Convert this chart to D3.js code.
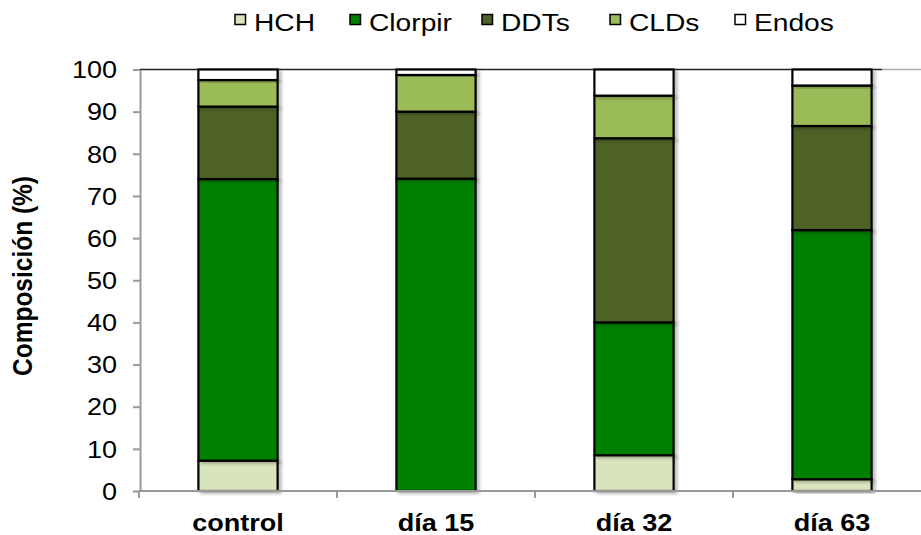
<!DOCTYPE html>
<html><head><meta charset="utf-8">
<script src="https://cdn.jsdelivr.net/npm/d3@7"></script>
<style>body{margin:0;background:#fff}svg{display:block}</style>
</head><body>
<svg id="c" width="921" height="535"></svg>
<script>
const categories = ["control", "día 15", "día 32", "día 63"];
const seriesNames = ["HCH", "Clorpir", "DDTs", "CLDs", "Endos"];
const HCH     = [7.2, 0.0, 8.5, 2.8];
const Clorpir = [66.8, 74.1, 31.5, 59.1];
const DDTs    = [17.2, 15.9, 43.7, 24.7];
const CLDs    = [6.3, 8.7, 10.1, 9.6];
const Endos   = [2.5, 1.3, 6.2, 3.8];
const seriesColors = ["#d7e4bd", "#008000", "#4f6228", "#9bbb59", "#ffffff"];
const yTickValues = [0, 10, 20, 30, 40, 50, 60, 70, 80, 90, 100];
const yTitle = "Composición (%)";

(function () {
const svg = d3.select("#c");
const FONT = "'Liberation Sans', Arial, sans-serif";
const SX = 1.15; // horizontal stretch of the reference's text
const mLeft = 140, mTop = 69.5, mBottom = 491, plotRight = 931;

const table = categories.map((c, i) => ({
  cat: c, HCH: HCH[i], Clorpir: Clorpir[i], DDTs: DDTs[i], CLDs: CLDs[i], Endos: Endos[i]
}));
const stacked = d3.stack().keys(seriesNames)(table);

const x = d3.scaleBand().domain(categories).range([mLeft - 1, plotRight]).paddingInner(0.6).paddingOuter(0.3);
const y = d3.scaleLinear().domain([0, 100]).range([mBottom, mTop]);

const defs = svg.append("defs");
const f = defs.append("filter").attr("id", "sh").attr("x", "-20%").attr("y", "-20%").attr("width", "140%").attr("height", "140%");
f.append("feDropShadow").attr("dx", 3).attr("dy", 2).attr("stdDeviation", 1.5).attr("flood-color", "#000").attr("flood-opacity", 0.25);

// top line at 100
svg.append("line").attr("x1", mLeft).attr("x2", 882).attr("y1", y(100)).attr("y2", y(100))
  .attr("stroke", "#222").attr("stroke-width", 1.5);
svg.append("line").attr("x1", 882).attr("x2", 921).attr("y1", y(100)).attr("y2", y(100))
  .attr("stroke", "#aaa").attr("stroke-width", 1.5);

// bars
const layers = svg.append("g").selectAll("g").data(stacked).join("g")
  .attr("fill", (d, i) => seriesColors[i]);
layers.selectAll("rect").data(d => d.map((v, i) => ({v, cat: categories[i]})).filter(o => o.v[1] - o.v[0] > 0))
  .join("rect")
  .attr("x", d => x(d.cat))
  .attr("width", x.bandwidth())
  .attr("y", d => y(d.v[1]))
  .attr("height", d => y(d.v[0]) - y(d.v[1]))
  .attr("stroke", "#000").attr("stroke-width", 2.2)
  .attr("filter", "url(#sh)");

// y axis
const yAxis = d3.axisLeft(y).tickValues(yTickValues).tickSize(7).tickPadding(13).tickSizeOuter(0);
const gy = svg.append("g").attr("transform", `translate(${mLeft},0)`).call(yAxis);
gy.select(".domain").attr("stroke", "#999").attr("stroke-width", 2);
gy.selectAll(".tick line").attr("stroke", "#999").attr("stroke-width", 2);
gy.selectAll(".tick text").attr("font-family", FONT).attr("font-size", 23.5).attr("fill", "#000")
  .attr("x", -23 / SX).attr("dy", "0.35em").attr("transform", `scale(${SX},1)`);

// x axis
const bounds = categories.map(c => x(c) - x.step() * 0.3).concat([plotRight]);
svg.append("line").attr("x1", mLeft - 1).attr("x2", 921).attr("y1", mBottom).attr("y2", mBottom)
  .attr("stroke", "#999").attr("stroke-width", 2);
svg.append("g").selectAll("line").data(bounds).join("line")
  .attr("x1", d => d).attr("x2", d => d).attr("y1", mBottom).attr("y2", mBottom + 7)
  .attr("stroke", "#999").attr("stroke-width", 2);
svg.append("g").selectAll("text").data(categories).join("text")
  .attr("transform", d => `translate(${x(d) + x.bandwidth() / 2},531) scale(${SX},1)`)
  .attr("text-anchor", "middle").attr("font-family", FONT).attr("font-weight", "bold")
  .attr("font-size", 23.5).text(d => d);

// y title
svg.append("text").attr("transform", `translate(32,276) scale(${SX},1) rotate(-90)`)
  .attr("text-anchor", "middle").attr("font-family", FONT).attr("font-weight", "bold")
  .attr("font-size", 24.5).text(yTitle);

// legend
const legX = [235, 350, 482, 610, 735];
const leg = svg.append("g").selectAll("g").data(seriesNames).join("g")
  .attr("transform", (d, i) => `translate(${legX[i]},0)`);
leg.append("rect").attr("x", 0).attr("y", 14.5).attr("width", 10.5).attr("height", 10)
  .attr("fill", (d, i) => seriesColors[i]).attr("stroke", "#000").attr("stroke-width", 1.5);
leg.append("text").attr("transform", `translate(19,31) scale(${SX},1)`)
  .attr("font-family", FONT).attr("font-size", 24.5)
  .text(d => d);
})();
</script>
</body></html>
